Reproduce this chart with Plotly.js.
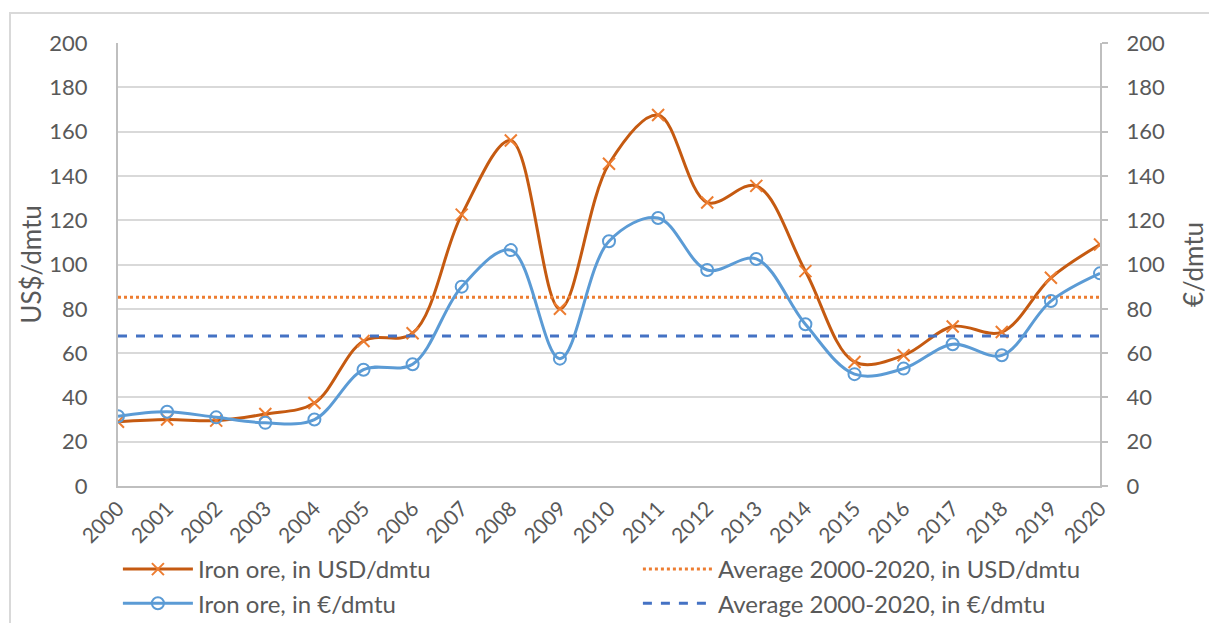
<!DOCTYPE html>
<html>
<head>
<meta charset="utf-8">
<script src="https://cdn.plot.ly/plotly-3.0.1.min.js"></script>
<style>
  html, body { margin: 0; padding: 0; background: #fff; }
  #wrap { position: relative; width: 1209px; height: 623px; overflow: hidden; }
  #frame { position: absolute; left: 9px; top: 12px; width: 1400px; height: 800px; border: 2px solid #d9d9d9; box-sizing: border-box; pointer-events: none; }
  #chart { position: absolute; left: 0; top: 0; width: 1209px; height: 623px; }
</style>
</head>
<body>
<div id="wrap">
  <div id="chart"></div>
  <div id="frame"></div>
</div>
<script>
const years = [2000, 2001, 2002, 2003, 2004, 2005, 2006, 2007, 2008, 2009, 2010,
               2011, 2012, 2013, 2014, 2015, 2016, 2017, 2018, 2019, 2020];
const ironUSD = [29, 30, 29.5, 32.5, 37.5, 65.5, 69, 122.5, 156, 80, 145.5,
                 167.5, 128, 135.5, 97, 56, 59, 72, 69.5, 94, 109];
const ironEUR = [31.5, 33.5, 31, 28.5, 30, 52.5, 55, 90, 106.5, 57.5, 110.5,
                 121, 97.5, 102.5, 73, 50.5, 53, 64, 59, 83.5, 96];
const avgUSD = 85.2;
const avgEUR = 67.7;
const yTicks = [0, 20, 40, 60, 80, 100, 120, 140, 160, 180, 200];
const seriesNames = ["Iron ore, in USD/dmtu", "Average 2000-2020, in USD/dmtu",
                     "Iron ore, in €/dmtu", "Average 2000-2020, in €/dmtu"];

const FONT = "Lato, 'Open Sans', sans-serif";
const GREY = "#595959";

const traces = [
  {
    x: years, y: ironUSD, name: seriesNames[0], type: "scatter", mode: "lines+markers",
    line: { color: "#C55A11", width: 3, shape: "spline", smoothing: 1 },
    marker: { symbol: "x-thin-open", size: 12, color: "#ED7D31", line: { color: "#ED7D31", width: 2 } },
    yaxis: "y"
  },
  {
    x: [years[0], years[years.length - 1]], y: [avgUSD, avgUSD], name: seriesNames[1],
    type: "scatter", mode: "lines",
    line: { color: "#ED7D31", width: 3, dash: "dot" }, yaxis: "y"
  },
  {
    x: years, y: ironEUR, name: seriesNames[2], type: "scatter", mode: "lines+markers",
    line: { color: "#5B9BD5", width: 3, shape: "spline", smoothing: 1 },
    marker: { symbol: "circle-open", size: 12, color: "#5B9BD5", line: { color: "#5B9BD5", width: 2 } },
    yaxis: "y2"
  },
  {
    x: [years[0], years[years.length - 1]], y: [avgEUR, avgEUR], name: seriesNames[3],
    type: "scatter", mode: "lines",
    line: { color: "#4472C4", width: 3, dash: "dash" }, yaxis: "y"
  }
];

const layout = {
  width: 1209, height: 623,
  paper_bgcolor: "rgba(0,0,0,0)", plot_bgcolor: "rgba(0,0,0,0)",
  margin: { l: 118, r: 109, t: 43, b: 137, autoexpand: false },
  font: { family: FONT, color: GREY, size: 19 },
  showlegend: true,
  legend: {
    orientation: "h", x: -0.0001, xanchor: "left", y: -0.1377, yanchor: "top",
    entrywidth: 435, entrywidthmode: "pixels", traceorder: "normal",
    font: { family: FONT, size: 24, color: GREY },
    itemwidth: 70, tracegroupgap: 0, bgcolor: "rgba(0,0,0,0)"
  },
  xaxis: {
    range: [2000, 2020], tickvals: years, ticktext: years.map(String), tickangle: -45,
    showgrid: false, zeroline: false, showline: true, linecolor: "#bfbfbf", linewidth: 2,
    ticks: "", tickfont: { family: FONT, size: 21, color: GREY }, fixedrange: true,
    automargin: false
  },
  yaxis: {
    range: [0, 200], tickvals: yTicks, showgrid: true, gridcolor: "#d9d9d9", gridwidth: 2,
    zeroline: false, showline: true, linecolor: "#bfbfbf", linewidth: 2, ticks: "",
    ticklabelstandoff: 24, automargin: false,
    tickfont: { family: FONT, size: 22, color: GREY },
    title: { text: "US$/dmtu", font: { family: FONT, size: 26, color: GREY }, standoff: 0 }
  },
  yaxis2: {
    range: [0, 200], tickvals: yTicks, overlaying: "y", side: "right", showgrid: false,
    zeroline: false, showline: true, linecolor: "#bfbfbf", linewidth: 2,
    ticks: "outside", ticklen: 6, tickcolor: "#bfbfbf", tickwidth: 2,
    ticklabelstandoff: 14, automargin: false,
    tickfont: { family: FONT, size: 22, color: GREY },
    title: { text: "€/dmtu", font: { family: FONT, size: 26, color: GREY }, standoff: 22 }
  }
};

Plotly.newPlot("chart", traces, layout, { displayModeBar: false, staticPlot: true });
</script>
</body>
</html>
